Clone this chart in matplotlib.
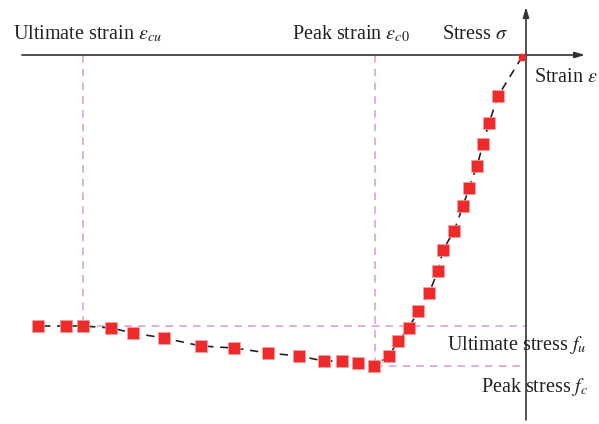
import numpy as np
import matplotlib.pyplot as plt

plt.rcParams['font.family'] = ['Liberation Serif', 'DejaVu Serif']
plt.rcParams['mathtext.fontset'] = 'stix'

# compressive stress-strain curve (strain x1e-3, stress MPa), origin first
strain = [-0.04, -0.28, -0.37, -0.43, -0.49, -0.57, -0.63, -0.72, -0.83, -0.88,
          -0.97, -1.08, -1.17, -1.28, -1.37, -1.52, -1.68, -1.84, -2.02, -2.27,
          -2.58, -2.92, -3.25, -3.62, -3.93, -4.15, -4.43, -4.60, -4.88]
stress = [-0.2, -4.1, -6.8, -8.9, -11.1, -13.3, -15.1, -17.6, -19.5, -21.6,
          -23.8, -25.6, -27.3, -28.6, -30.1, -31.1, -30.8, -30.6, -30.6, -30.1,
          -29.8, -29.3, -29.1, -28.3, -27.8, -27.3, -27.1, -27.1, -27.1]

eps_c0, f_c = -1.51, -31.1
eps_cu, f_u = -4.43, -27.1

fig = plt.figure(figsize=(5.99, 4.24), dpi=100)
ax = fig.add_axes([0, 0, 1, 1])
ax.set_xlim(-5.26, 0.73)
ax.set_ylim(-36.9, 5.5)
ax.axis('off')

axcol = '#333333'
ax.annotate('', xy=(0.59, 0), xytext=(-5.04, 0),
            arrowprops=dict(arrowstyle='-|>,head_length=0.6,head_width=0.18',
                            color=axcol, lw=1.2, shrinkA=0, shrinkB=0))
ax.annotate('', xy=(0, 4.8), xytext=(0, -36.5),
            arrowprops=dict(arrowstyle='-|>,head_length=0.6,head_width=0.18',
                            color=axcol, lw=1.2, shrinkA=0, shrinkB=0))

# guide lines for peak and ultimate points
pink = '#d99ad0'
dash = dict(color=pink, lw=1.1, ls=(0, (5, 4)))
ax.plot([eps_cu, eps_cu], [0, f_u], **dash)
ax.plot([eps_c0, eps_c0], [0, f_c], **dash)
ax.plot([eps_cu, 0], [f_u, f_u], **dash)
ax.plot([eps_c0, 0], [f_c, f_c], **dash)

red = '#ee2a2a'
ax.plot(strain, stress, color='#222222', lw=1.2, ls=(0, (5, 4)), zorder=3)
ax.plot(strain[1:], stress[1:], 's', color=red, ms=8.2,
        mec='#f5a0a0', mew=0.5, zorder=4)
ax.plot(strain[:1], stress[:1], 's', color=red, ms=4, mec=red, zorder=4)

fs = 14.5
tc = '#222222'
ax.text(-5.13, 1.6, r'Ultimate strain $\varepsilon_{cu}$', fontsize=fs,
        va='baseline', color=tc)
ax.text(-2.34, 1.6, r'Peak strain $\varepsilon_{c0}$', fontsize=fs,
        va='baseline', color=tc)
ax.text(-0.84, 1.6, r'Stress $\sigma$', fontsize=fs,
        va='baseline', color=tc)
ax.text(0.08, -2.3, r'Strain $\varepsilon$', fontsize=fs,
        va='center', color=tc)
ax.text(-0.79, -29.0, r'Ultimate stress $f_u$', fontsize=fs,
        va='center', color=tc)
ax.text(-0.45, -33.2, r'Peak stress $f_c$', fontsize=fs,
        va='center', color=tc)

fig.savefig('out.png', dpi=100)
